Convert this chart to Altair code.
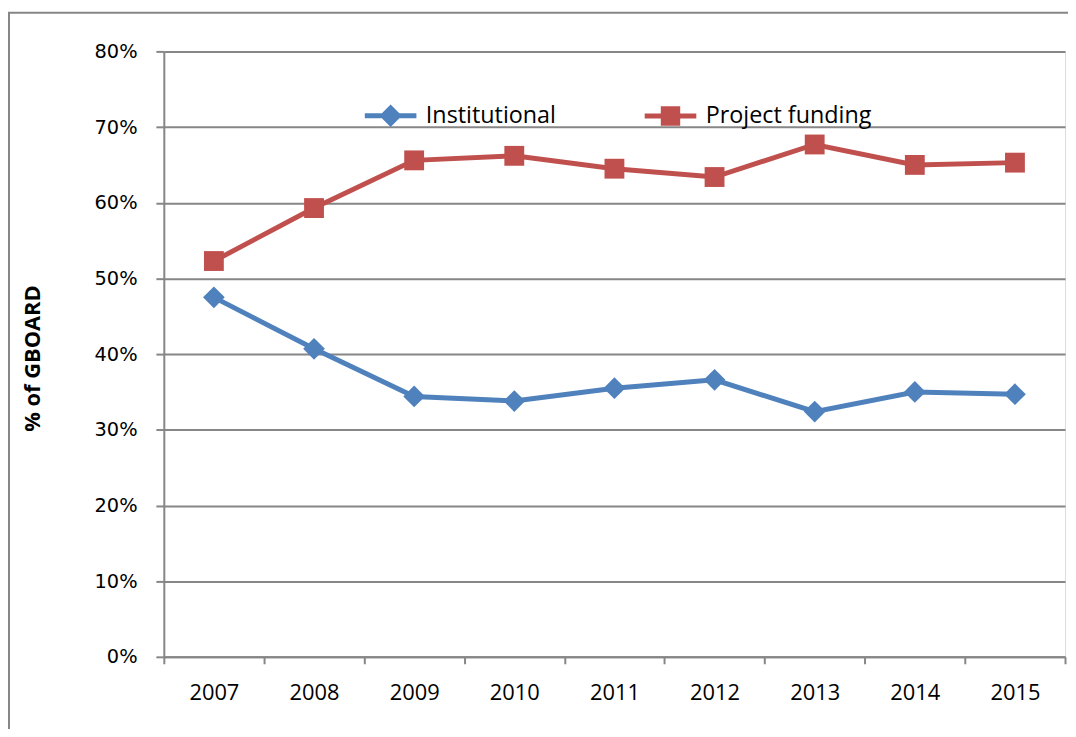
import altair as alt
import pandas as pd

years = ["2007", "2008", "2009", "2010", "2011", "2012", "2013", "2014", "2015"]
institutional = [0.475, 0.407, 0.344, 0.338, 0.355, 0.366, 0.324, 0.350, 0.347]
project_funding = [0.523, 0.593, 0.656, 0.662, 0.645, 0.634, 0.677, 0.650, 0.653]
series_names = ["Institutional", "Project funding"]
series_colors = ["#4F81BD", "#C0504D"]
series_shapes = ["diamond", "square"]
series_sizes = [480, 400]
legend_paths = [
    "M-1,0H1M0,-0.3L0.3,0L0,0.3L-0.3,0Z",
    "M-1,0H1M-0.28,-0.28H0.28V0.28H-0.28Z",
]

rows = []
for y, v in zip(years, institutional):
    rows.append({"year": y, "value": v, "series": series_names[0]})
for y, v in zip(years, project_funding):
    rows.append({"year": y, "value": v, "series": series_names[1]})
df = pd.DataFrame(rows)
df["entry"] = df["series"]

x_enc = alt.X(
    "year:O",
    sort=years,
    scale=alt.Scale(paddingInner=0, paddingOuter=0),
    axis=alt.Axis(
        title=None,
        labelAngle=0,
        tickBand="extent",
        labelFont="Open Sans",
        labelFontSize=22,
        labelColor="#000000",
        labelPadding=19,
        tickSize=7,
        tickColor="#868686",
        tickWidth=2,
        domainColor="#868686",
        domainWidth=2,
        grid=False,
    ),
)

y_enc = alt.Y(
    "value:Q",
    scale=alt.Scale(domain=[0, 0.8], nice=False),
    axis=alt.Axis(
        title="% of GBOARD",
        titleFont="Open Sans",
        titleFontSize=22,
        titleFontWeight="bold",
        titleColor="#000000",
        titleX=-132,
        titleY=309,
        titleBaseline="middle",
        titleAngle=-90,
        values=[0, 0.1, 0.2, 0.3, 0.4, 0.5, 0.6, 0.7, 0.8],
        format=".0%",
        labelFont="DejaVu Sans",
        labelFontSize=19.5,
        labelColor="#000000",
        labelPadding=19,
        tickSize=8,
        tickColor="#868686",
        tickWidth=2,
        domainColor="#868686",
        domainWidth=2,
        grid=True,
        gridColor="#868686",
        gridWidth=2,
    ),
)

color_enc = alt.Color(
    "series:N",
    scale=alt.Scale(domain=series_names, range=series_colors),
    legend=None,
)

legend = alt.Legend(
    title=None,
    orient="none",
    legendX=200,
    legendY=36,
    direction="horizontal",
    padding=0,
    symbolSize=2704,
    symbolStrokeWidth=5,
    symbolOpacity=1,
    labelFont="Open Sans",
    labelFontSize=23.5,
    labelColor="#000000",
    labelOffset=7,
    labelLimit=400,
    columnPadding=78,
)

legend_layer = alt.Chart(df).mark_point(size=0, strokeWidth=5, filled=True).encode(
    x=x_enc,
    y=y_enc,
    fill=alt.Fill("entry:N", scale=alt.Scale(domain=series_names, range=series_colors), legend=legend),
    stroke=alt.Stroke("entry:N", scale=alt.Scale(domain=series_names, range=series_colors), legend=legend),
    shape=alt.Shape("entry:N", scale=alt.Scale(domain=series_names, range=legend_paths), legend=legend),
)

lines = alt.Chart(df).mark_line(strokeWidth=5).encode(
    x=x_enc, y=y_enc, color=color_enc, detail="series:N"
)

point_layers = []
for name, shp, sz in zip(series_names, series_shapes, series_sizes):
    point_layers.append(
        alt.Chart(df)
        .transform_filter(alt.datum.series == name)
        .mark_point(filled=True, size=sz, opacity=1, shape=shp)
        .encode(x=x_enc, y=y_enc, color=color_enc)
    )

border = alt.Chart(pd.DataFrame({"a": [0]})).mark_rect(
    fill=None, stroke="#868686", strokeWidth=2, clip=False
).encode(
    x=alt.value(-156), x2=alt.value(960), y=alt.value(-39), y2=alt.value(720)
)

chart = alt.layer(border, legend_layer, lines, *point_layers).properties(
    width=908,
    height=610,
    padding={"left": 157, "top": 41, "right": 3, "bottom": 70},
    autosize="none",
).configure_view(stroke=None).configure(background="#ffffff")

chart.save("out.html", embed_options={"renderer": "svg", "actions": False})
